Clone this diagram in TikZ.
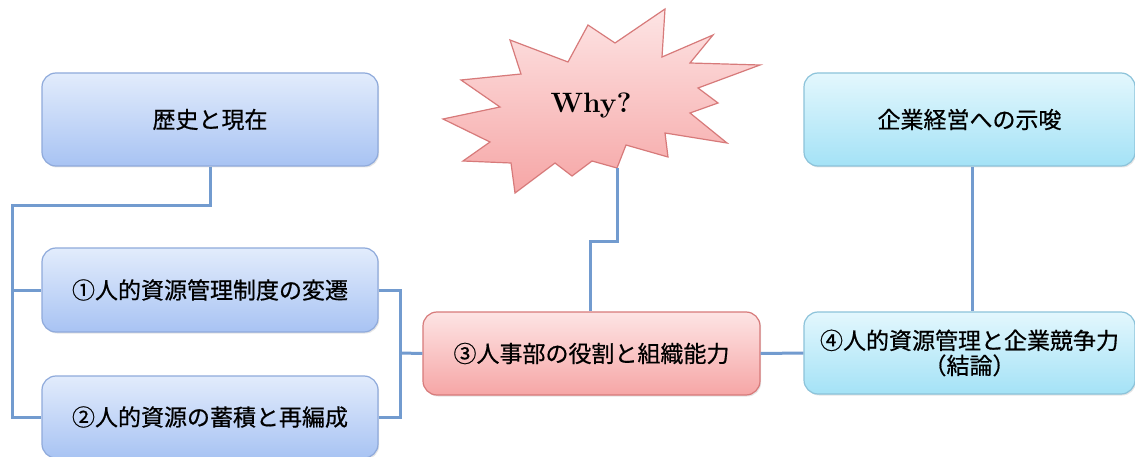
\documentclass[tikz,border=0pt]{standalone}
\usepackage{fontspec}
\usetikzlibrary{shadows}
\newfontfamily\jp[FakeBold=0.6]{Noto Sans CJK JP}
\definecolor{lnc}{HTML}{729BCF}
\definecolor{bluetop}{HTML}{E2ECFC}
\definecolor{bluebot}{HTML}{A8C3F3}
\definecolor{blueedge}{HTML}{8FAADB}
\definecolor{cyantop}{HTML}{E3F7FD}
\definecolor{cyanbot}{HTML}{A4E2F6}
\definecolor{cyanedge}{HTML}{8CC3DA}
\definecolor{redtop}{HTML}{FDE4E4}
\definecolor{redbot}{HTML}{F6A6A6}
\definecolor{rededge}{HTML}{D77A7A}
\tikzset{
  box/.style={rounded corners=14pt, line width=1.2pt, inner sep=2pt, align=center,
    font=\jp\fontsize{23}{25}\selectfont,
    drop shadow={opacity=0.2, shadow xshift=1.2pt, shadow yshift=-1.5pt}},
  bluebox/.style={box, draw=blueedge, top color=bluetop, bottom color=bluebot},
  cyanbox/.style={box, draw=cyanedge, top color=cyantop, bottom color=cyanbot},
  redbox/.style={box, draw=rededge, top color=redtop, bottom color=redbot},
  conn/.style={draw=lnc, line width=3pt},
}
\begin{document}
\begin{tikzpicture}[x=1pt,y=-1pt]
\useasboundingbox[fill=white] (0,0) rectangle (1135,457);
% boxes
\node[bluebox, minimum width=336pt, minimum height=93pt] (b0) at (210,119.5) {歴史と現在};
\node[bluebox, minimum width=336pt, minimum height=84pt] (b1) at (210,290) {①人的資源管理制度の変遷};
\node[bluebox, minimum width=336pt, minimum height=82pt] (b2) at (210,417) {②人的資源の蓄積と再編成};
\node[redbox, minimum width=337pt, minimum height=83pt] (b3) at (591.5,353.5) {③人事部の役割と組織能力};
\node[cyanbox, minimum width=331pt, minimum height=93pt] (b5) at (969.5,119.5) {企業経営への示唆};
\node[cyanbox, minimum width=331pt, minimum height=82pt] (b4) at (969.5,353) {④人的資源管理と企業競争力\\（結論）};
% starburst
\path[draw=rededge, line width=1.2pt, top color=redtop, bottom color=redbot, line join=miter]
  (510,40) -- (568,62) -- (588,25) -- (615,43) -- (665,9) -- (662,57) -- (713,35) -- (690,63)
  -- (760,65) -- (698,88) -- (718,103) -- (690,113) -- (727,143) -- (665,133) -- (668,157)
  -- (626,145) -- (617,168) -- (592,161) -- (572,176) -- (555,163) -- (515,193) -- (511,163)
  -- (463,161) -- (490,142) -- (443,119) -- (500,107) -- (461,80) -- (521,74) -- cycle;
\node[font=\bfseries\fontsize{28}{32}\selectfont] (why) at (591,106) {Why?};
% connectors
\coordinate (lj) at (12,206);
\coordinate (rj) at (400,353);
\coordinate (wt) at (617,168);
\coordinate (sj) at (590,241);
\coordinate (vx) at (972,0);
\draw[conn] (b0.south) |- (lj) |- (b2.west);
\draw[conn] (lj |- b1.west) -- (b1.west);
\draw[conn] (b1.east) -| (rj);
\draw[conn] (b2.east) -| (rj);
\draw[conn] (rj) -- (b3.west);
\draw[conn] (wt) |- (sj) -- (sj |- b3.north);
\draw[conn] (b3.east) -- (b4.west);
\draw[conn] (b5.south -| vx) -- (b4.north -| vx);
\end{tikzpicture}
\end{document}
